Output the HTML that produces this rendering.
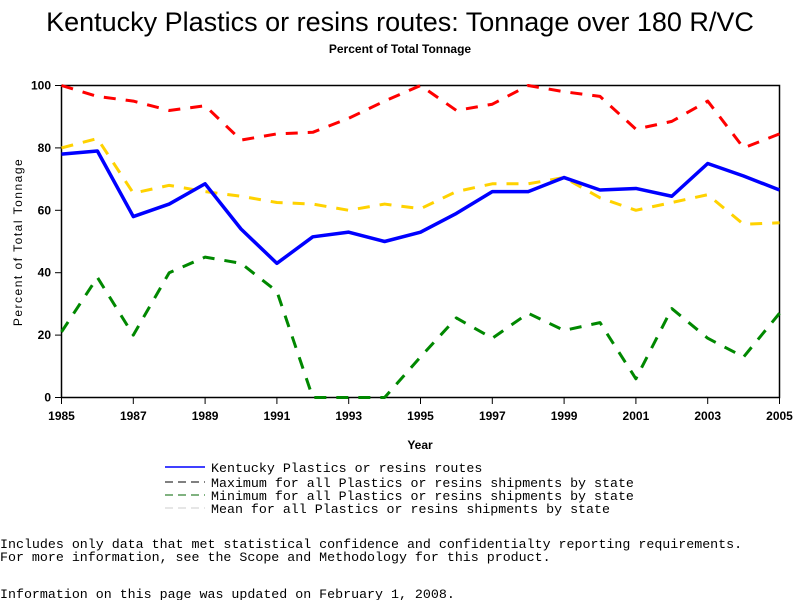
<!DOCTYPE html>
<html><head><meta charset="utf-8"><style>
body{margin:0;background:#fff;width:800px;height:600px;overflow:hidden;font-family:"Liberation Sans",sans-serif}
svg text{font-family:"Liberation Sans",sans-serif}
svg text.mono{font-family:"Liberation Mono",monospace}
</style></head><body>
<svg id="c" width="800" height="600">
<text x="400" y="31" font-size="27" text-anchor="middle">Kentucky Plastics or resins routes: Tonnage over 180 R/VC</text>
<text x="400" y="53" font-size="12" font-weight="bold" text-anchor="middle">Percent of Total Tonnage</text>
<rect x="61.5" y="85.5" width="718" height="312" fill="none" stroke="#000" stroke-width="1.5"/>
<g id="yt"></g>
<g id="xt"></g>
<text x="420" y="449" font-size="12" font-weight="bold" text-anchor="middle">Year</text>
<text transform="translate(22,242) rotate(-90)" font-size="12" text-anchor="middle" letter-spacing="1.5">Percent of Total Tonnage</text>
<g id="series"></g>
<g font-size="13.3">
<line x1="165" y1="467" x2="205" y2="467" stroke="#00f" stroke-width="1.5"/>
<text class="mono" x="211" y="472" font-size="13.3">Kentucky Plastics or resins routes</text>
<line x1="165" y1="482" x2="205" y2="482" stroke="#000" stroke-dasharray="8,5"/>
<text class="mono" x="211" y="487" font-size="13.3">Maximum for all Plastics or resins shipments by state</text>
<line x1="165" y1="495" x2="205" y2="495" stroke="#060" stroke-dasharray="8,5"/>
<text class="mono" x="211" y="500" font-size="13.3">Minimum for all Plastics or resins shipments by state</text>
<line x1="165" y1="508" x2="205" y2="508" stroke="#ccc" stroke-dasharray="8,5"/>
<text class="mono" x="211" y="513" font-size="13.3">Mean for all Plastics or resins shipments by state</text>
</g>
<g>
<text class="mono" x="0" y="548" font-size="13.3">Includes only data that met statistical confidence and confidentialty reporting requirements.</text>
<text class="mono" x="0" y="561" font-size="13.3">For more information, see the Scope and Methodology for this product.</text>
<text class="mono" x="0" y="598" font-size="13.3">Information on this page was updated on February 1, 2008.</text>
</g>
</svg>
<script>
const years=[1985,1986,1987,1988,1989,1990,1991,1992,1993,1994,1995,1996,1997,1998,1999,2000,2001,2002,2003,2004,2005];
const kentucky=[78,79,58,62,68.5,54,43,51.5,53,50,53,59,66,66,70.5,66.5,67,64.5,75,71,66.5];
const maxVals=[100,96.5,95,92,93.5,82.5,84.5,85,89.5,95,100,92,94,100,98,96.5,86,88.5,95,80,84.5];
const minVals=[21,38.5,20,40,45,43,34,0,0,0,13,25.5,19,27,21.5,24,6,28.5,19,13,27];
const meanVals=[80,83,65.5,68,66,64.5,62.5,62,60,62,60.5,66,68.5,68.5,70.5,64,60,62.5,65,55.5,56];
const yTicks=[0,20,40,60,80,100];
const xTicks=[1985,1987,1989,1991,1993,1995,1997,1999,2001,2003,2005];
const NS='http://www.w3.org/2000/svg';
const X=v=>61.5+(v-1985)*718/20, Y=v=>397.5-v*3.12;
function mk(t,a,p){const e=document.createElementNS(NS,t);for(const k in a)e.setAttribute(k,a[k]);p.appendChild(e);return e;}
const yt=document.getElementById('yt'),xt=document.getElementById('xt'),sg=document.getElementById('series');
yTicks.forEach(v=>{
 const l=mk('line',{x1:55,x2:61.5,y1:Y(v),y2:Y(v),stroke:'#000'},yt);
 
 
 const t=mk('text',{x:51,y:Y(v)+4,'font-size':12,'font-weight':'bold','text-anchor':'end'},yt);t.textContent=v;
 
 
});
xTicks.forEach(v=>{
 const l=mk('line',{x1:X(v),x2:X(v),y1:397.5,y2:404,stroke:'#000'},xt);
 
 
 const t=mk('text',{x:X(v),y:420,'font-size':12,'font-weight':'bold','text-anchor':'middle'},xt);t.textContent=v;
 
 
});
function line(vals,color,w,dash,name){
 const p=mk('polyline',{points:vals.map((v,i)=>X(years[i])+','+Y(v)).join(' '),fill:'none',stroke:color,'stroke-width':w,'stroke-linejoin':'round'},sg);
 if(dash)p.setAttribute('stroke-dasharray',dash);
 
 
}
line(maxVals,'#f00',3,'12,10','series-max');
line(meanVals,'#ffd200',3,'12,10','series-mean');
line(minVals,'#080',3,'12,10','series-min');
line(kentucky,'#00f',3.5,null,'series-kentucky');
</script>
</body></html>
